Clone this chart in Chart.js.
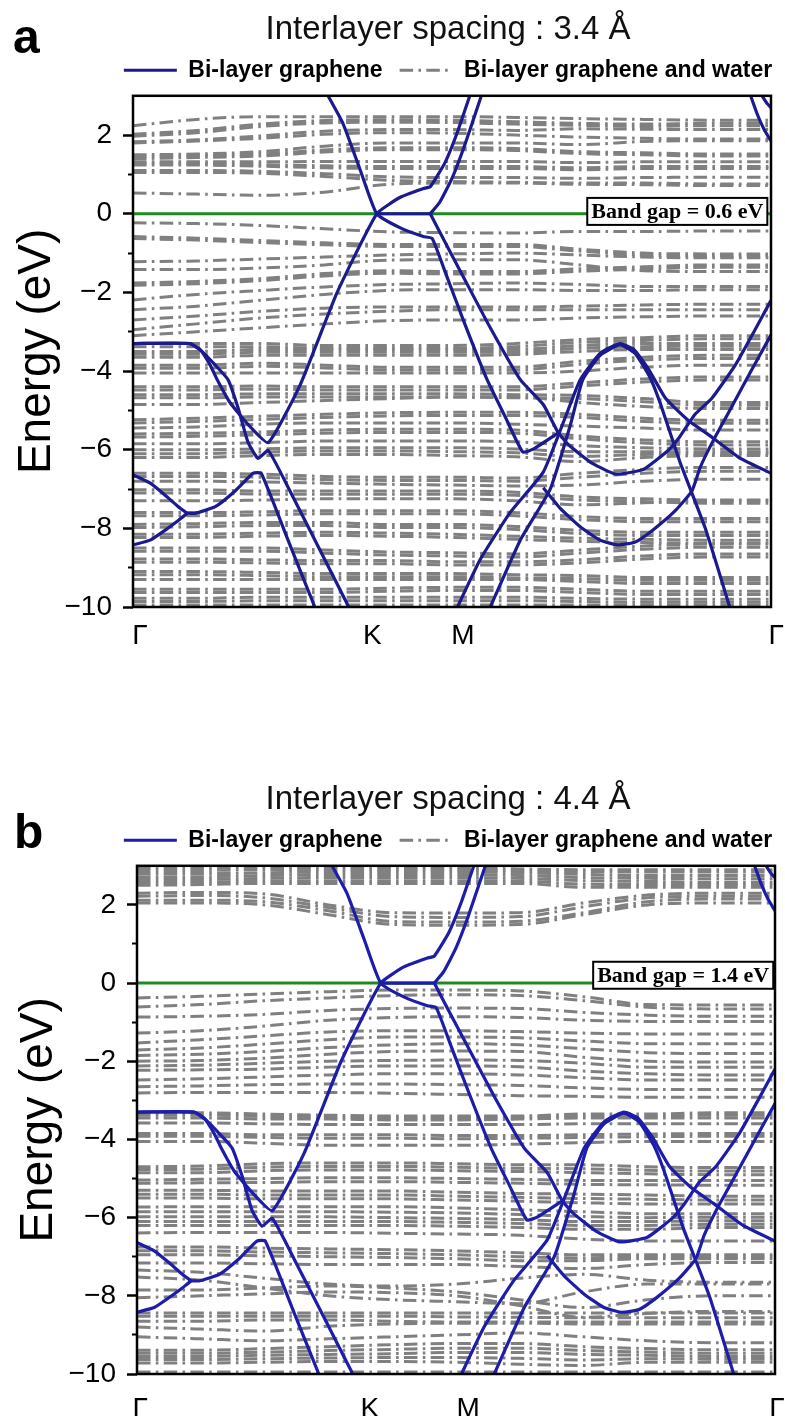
<!DOCTYPE html>
<html>
<head>
<meta charset="utf-8">
<script src="https://cdn.jsdelivr.net/npm/chart.js@4.4.0/dist/chart.umd.min.js"></script>
<style>
  html, body { margin: 0; padding: 0; background: #fff; overflow: hidden; width: 785px; height: 1416px; }
  .panel { position: absolute; left: 0; }
</style>
</head>
<body>
<div class="panel" style="top:0"><canvas id="chartA" width="896" height="700"></canvas></div>
<div class="panel" style="top:770px"><canvas id="chartB" width="896" height="646"></canvas></div>
<script>
// k path (fraction of Γ-K-M-Γ) and labels
const kGrid = [0, 0.1, 0.2, 0.3, 0.4, 0.5, 0.6, 0.7, 0.8, 0.9, 1];
const kLabels = ['Γ', 'K', 'M', 'Γ'];
const kTicksA = [0.011, 0.375, 0.517, 1.008];
const kTicksB = [0.005, 0.365, 0.519, 1.003];
const energyMajor = [-10, -8, -6, -4, -2, 0, 2];
const energyMinor = [-9, -7, -5, -3, -1, 1];

// bi-layer graphene bands, [k, E]
const sigmaOuter = [[0,-3.30],[0.089,-3.30],[0.105,-3.45],[0.121,-3.85],[0.132,-4.22],[0.152,-4.80],[0.180,-5.35],[0.212,-5.82],[0.262,-4.35],[0.320,-2.00],[0.382,0],[0.419,0.42],[0.455,0.64],[0.466,0.69],[0.489,1.30],[0.509,2.10],[0.530,3.10]];
const sigmaInner = [[0,-3.30],[0.089,-3.30],[0.108,-3.50],[0.129,-3.85],[0.149,-4.22],[0.165,-4.95],[0.180,-5.80],[0.196,-6.22],[0.212,-6.02],[0.246,-7.05],[0.293,-8.55],[0.335,-9.90],[0.343,-10.2]];
const piUpper = [[0,-6.64],[0.027,-6.85],[0.050,-7.15],[0.071,-7.45],[0.085,-7.62]];
const piLower = [[0,-8.42],[0.027,-8.30],[0.050,-8.05],[0.071,-7.80],[0.085,-7.62],[0.097,-7.62],[0.129,-7.45],[0.160,-7.05],[0.188,-6.60],[0.201,-6.60],[0.243,-8.30],[0.285,-10.0],[0.293,-10.3]];
const diracLeft = [[0.304,3.05],[0.329,2.30],[0.356,1.12],[0.382,0],[0.419,-0.36],[0.455,-0.58],[0.469,-0.63],[0.492,-1.60],[0.520,-2.80],[0.555,-4.22],[0.583,-5.15],[0.611,-6.06],[0.628,-5.98],[0.666,-5.58]];
const kmFlat = [[0.382,0],[0.466,0]];
const mUp = [[0.466,0],[0.481,0.30],[0.500,0.90],[0.520,1.75],[0.547,3.05]];
const mDown = [[0.466,0],[0.489,-0.72],[0.516,-1.55],[0.560,-2.90],[0.607,-4.22],[0.643,-4.85],[0.666,-5.55],[0.683,-5.88],[0.720,-6.35],[0.757,-6.62],[0.800,-6.50],[0.840,-6.00],[0.857,-5.67],[0.881,-5.10],[0.907,-4.70],[0.944,-3.85],[0.975,-2.95],[1.0,-2.20]];
const riseA = [[0.500,-10.3],[0.544,-8.80],[0.591,-7.60],[0.643,-6.57],[0.677,-5.20],[0.701,-4.22],[0.732,-3.55],[0.763,-3.30],[0.785,-3.45],[0.808,-3.95],[0.835,-4.70],[0.870,-5.25],[0.903,-5.63],[0.950,-6.20],[1.0,-6.60]];
const riseB = [[0.560,-10.0],[0.607,-8.30],[0.654,-7.00],[0.685,-5.40],[0.705,-4.22],[0.732,-3.60],[0.763,-3.33],[0.787,-3.55],[0.810,-4.15],[0.826,-4.80],[0.857,-6.30],[0.897,-8.00],[0.939,-10.2]];
const lowerU = [[0.643,-6.97],[0.670,-7.50],[0.701,-7.96],[0.732,-8.30],[0.759,-8.42],[0.787,-8.35],[0.815,-8.04],[0.850,-7.55],[0.876,-7.05],[0.889,-6.45],[0.910,-5.75],[0.934,-5.04],[0.967,-4.05],[1.0,-3.08]];
const topRight1 = [[0.967,3.05],[0.978,2.55],[0.989,2.15],[1.0,1.85]];
const topRight2 = [[0.984,3.05],[0.994,2.80],[1.0,2.70]];
const bilayerBands = [sigmaOuter, sigmaInner, piUpper, piLower, diracLeft, kmFlat, mUp, mDown, riseA, riseB, lowerU, topRight1, topRight2];

// bi-layer graphene + water bands, energies on kGrid
const waterBandsA = [
  [2.24, 2.40, 2.47, 2.47, 2.47, 2.47, 2.45, 2.42, 2.40, 2.38, 2.38],
  [2.02, 2.12, 2.28, 2.37, 2.39, 2.38, 2.34, 2.30, 2.28, 2.30, 2.30],
  [1.97, 2.06, 2.22, 2.31, 2.33, 2.32, 2.28, 2.25, 2.22, 2.24, 2.24],
  [1.83, 1.88, 1.98, 2.10, 2.14, 2.14, 2.12, 2.16, 2.15, 2.14, 2.14],
  [1.80, 1.85, 1.92, 2.02, 2.06, 2.05, 2.00, 1.95, 1.92, 1.90, 1.90],
  [1.50, 1.52, 1.58, 1.72, 1.80, 1.80, 1.80, 1.76, 1.84, 1.86, 1.86],
  [1.45, 1.48, 1.52, 1.62, 1.68, 1.68, 1.66, 1.58, 1.55, 1.52, 1.52],
  [1.40, 1.43, 1.47, 1.57, 1.63, 1.63, 1.61, 1.53, 1.50, 1.47, 1.47],
  [1.32, 1.32, 1.32, 1.33, 1.33, 1.33, 1.33, 1.30, 1.32, 1.32, 1.32],
  [1.28, 1.28, 1.25, 1.22, 1.20, 1.20, 1.20, 1.17, 1.20, 1.20, 1.20],
  [1.24, 1.24, 1.21, 1.17, 1.15, 1.15, 1.15, 1.12, 1.15, 1.15, 1.15],
  [1.10, 1.10, 1.08, 1.02, 0.94, 0.92, 0.92, 0.90, 0.92, 0.93, 0.93],
  [1.05, 1.05, 1.03, 0.95, 0.85, 0.82, 0.80, 0.78, 0.78, 0.76, 0.76],
  [0.53, 0.50, 0.47, 0.55, 0.75, 0.78, 0.78, 0.75, 0.74, 0.72, 0.72],
  [-0.23, -0.25, -0.30, -0.38, -0.46, -0.48, -0.49, -0.45, -0.45, -0.44, -0.44],
  [-0.58, -0.62, -0.68, -0.74, -0.78, -0.78, -0.78, -0.90, -1.00, -1.02, -1.02],
  [-0.63, -0.67, -0.73, -0.79, -0.83, -0.83, -0.83, -0.95, -1.05, -1.07, -1.07],
  [-1.22, -1.20, -1.15, -1.10, -1.05, -1.02, -1.00, -1.05, -1.10, -1.12, -1.12],
  [-1.42, -1.42, -1.38, -1.30, -1.18, -1.17, -1.17, -1.30, -1.45, -1.47, -1.47],
  [-1.76, -1.72, -1.65, -1.52, -1.45, -1.47, -1.47, -1.40, -1.35, -1.30, -1.30],
  [-1.82, -1.78, -1.70, -1.58, -1.51, -1.53, -1.53, -1.46, -1.41, -1.36, -1.36],
  [-2.19, -2.05, -1.95, -1.86, -1.80, -1.78, -1.76, -1.80, -1.85, -1.85, -1.85],
  [-2.44, -2.35, -2.20, -2.05, -1.95, -1.93, -1.93, -1.95, -1.95, -1.93, -1.93],
  [-2.70, -2.60, -2.48, -2.40, -2.37, -2.37, -2.37, -2.35, -2.32, -2.30, -2.30],
  [-2.95, -2.80, -2.65, -2.55, -2.48, -2.44, -2.44, -2.44, -2.44, -2.44, -2.44],
  [-3.10, -3.00, -2.90, -2.80, -2.72, -2.70, -2.70, -2.65, -2.62, -2.60, -2.60],
  [-3.30, -3.30, -3.30, -3.35, -3.35, -3.35, -3.30, -3.20, -3.15, -3.10, -3.10],
  [-3.38, -3.38, -3.38, -3.42, -3.42, -3.42, -3.38, -3.27, -3.22, -3.18, -3.18],
  [-3.50, -3.50, -3.45, -3.45, -3.45, -3.45, -3.45, -3.35, -3.30, -3.30, -3.30],
  [-3.57, -3.57, -3.52, -3.52, -3.52, -3.52, -3.52, -3.42, -3.38, -3.37, -3.37],
  [-3.65, -3.65, -3.60, -3.60, -3.60, -3.60, -3.58, -3.50, -3.45, -3.45, -3.45],
  [-3.85, -3.85, -3.80, -3.85, -3.90, -3.90, -3.90, -3.75, -3.65, -3.60, -3.60],
  [-3.93, -3.93, -3.88, -3.92, -3.97, -3.97, -3.97, -3.83, -3.72, -3.68, -3.68],
  [-4.05, -4.05, -4.05, -4.05, -4.05, -4.05, -4.05, -4.00, -3.90, -3.85, -3.85],
  [-4.40, -4.40, -4.38, -4.40, -4.40, -4.40, -4.40, -4.30, -4.20, -4.15, -4.15],
  [-4.48, -4.48, -4.46, -4.48, -4.48, -4.48, -4.48, -4.38, -4.28, -4.23, -4.23],
  [-4.60, -4.60, -4.58, -4.58, -4.58, -4.58, -4.60, -4.62, -4.70, -4.80, -4.80],
  [-4.68, -4.68, -4.66, -4.66, -4.66, -4.66, -4.68, -4.70, -4.78, -4.87, -4.87],
  [-4.85, -4.85, -4.80, -4.75, -4.70, -4.66, -4.66, -4.80, -4.90, -4.95, -4.95],
  [-5.24, -5.20, -5.15, -5.10, -5.06, -5.05, -5.05, -5.10, -5.20, -5.25, -5.25],
  [-5.32, -5.28, -5.23, -5.18, -5.14, -5.13, -5.13, -5.18, -5.28, -5.33, -5.33],
  [-5.45, -5.42, -5.35, -5.32, -5.32, -5.32, -5.35, -5.40, -5.45, -5.50, -5.50],
  [-5.60, -5.58, -5.55, -5.50, -5.48, -5.48, -5.50, -5.65, -5.75, -5.80, -5.80],
  [-5.68, -5.66, -5.62, -5.58, -5.56, -5.56, -5.58, -5.72, -5.83, -5.88, -5.88],
  [-5.85, -5.85, -5.82, -5.78, -5.78, -5.78, -5.80, -5.90, -5.95, -5.98, -5.98],
  [-6.00, -6.00, -5.98, -5.95, -5.95, -5.95, -5.98, -6.05, -6.05, -6.05, -6.05],
  [-6.10, -6.10, -6.06, -6.03, -6.03, -6.05, -6.08, -6.17, -6.12, -6.10, -6.10],
  [-6.20, -6.20, -6.15, -6.12, -6.12, -6.15, -6.18, -6.30, -6.20, -6.15, -6.15],
  [-6.60, -6.60, -6.62, -6.68, -6.70, -6.70, -6.72, -6.60, -6.50, -6.45, -6.45],
  [-6.68, -6.68, -6.70, -6.76, -6.78, -6.78, -6.80, -6.70, -6.60, -6.55, -6.55],
  [-6.80, -6.80, -6.82, -6.85, -6.88, -6.90, -6.92, -6.90, -6.80, -6.75, -6.75],
  [-7.02, -7.02, -7.05, -7.05, -7.05, -7.05, -7.08, -7.20, -7.25, -7.28, -7.28],
  [-7.10, -7.10, -7.13, -7.13, -7.13, -7.13, -7.16, -7.28, -7.32, -7.36, -7.36],
  [-7.30, -7.30, -7.28, -7.25, -7.25, -7.25, -7.30, -7.40, -7.35, -7.30, -7.30],
  [-7.60, -7.60, -7.58, -7.55, -7.55, -7.55, -7.60, -7.70, -7.75, -7.75, -7.75],
  [-7.68, -7.68, -7.66, -7.63, -7.63, -7.63, -7.68, -7.78, -7.83, -7.83, -7.83],
  [-7.90, -7.88, -7.85, -7.85, -7.90, -7.90, -7.95, -8.05, -8.10, -8.10, -8.10],
  [-7.98, -7.96, -7.93, -7.93, -7.98, -7.98, -8.03, -8.13, -8.18, -8.18, -8.18],
  [-8.15, -8.15, -8.12, -8.10, -8.12, -8.15, -8.20, -8.25, -8.28, -8.30, -8.30],
  [-8.23, -8.23, -8.20, -8.18, -8.20, -8.23, -8.28, -8.33, -8.36, -8.38, -8.38],
  [-8.50, -8.50, -8.50, -8.55, -8.60, -8.62, -8.65, -8.55, -8.45, -8.40, -8.40],
  [-8.58, -8.58, -8.58, -8.63, -8.68, -8.70, -8.73, -8.63, -8.53, -8.48, -8.48],
  [-8.78, -8.78, -8.80, -8.82, -8.82, -8.85, -8.85, -8.80, -8.70, -8.65, -8.65],
  [-8.86, -8.86, -8.88, -8.90, -8.90, -8.93, -8.93, -8.88, -8.78, -8.73, -8.73],
  [-9.10, -9.10, -9.12, -9.15, -9.15, -9.15, -9.18, -9.20, -9.25, -9.25, -9.25],
  [-9.18, -9.18, -9.20, -9.23, -9.23, -9.23, -9.26, -9.28, -9.32, -9.32, -9.32],
  [-9.30, -9.30, -9.30, -9.30, -9.30, -9.30, -9.30, -9.35, -9.40, -9.40, -9.40],
  [-9.55, -9.55, -9.55, -9.55, -9.52, -9.50, -9.50, -9.55, -9.60, -9.60, -9.60],
  [-9.63, -9.63, -9.63, -9.63, -9.60, -9.58, -9.58, -9.63, -9.68, -9.68, -9.68],
  [-9.78, -9.78, -9.75, -9.75, -9.75, -9.75, -9.75, -9.78, -9.80, -9.80, -9.80],
  [-9.86, -9.86, -9.84, -9.84, -9.84, -9.84, -9.84, -9.86, -9.88, -9.88, -9.88],
  [-9.95, -9.95, -9.95, -9.95, -9.95, -9.95, -9.95, -9.95, -9.95, -9.95, -9.95]
];

const waterBandsB = [
  [2.95, 2.95, 2.95, 2.95, 2.95, 2.95, 2.92, 2.90, 2.90, 2.90, 2.90],
  [2.88, 2.88, 2.90, 2.90, 2.90, 2.90, 2.87, 2.85, 2.84, 2.84, 2.84],
  [2.80, 2.80, 2.82, 2.85, 2.85, 2.85, 2.82, 2.78, 2.75, 2.75, 2.75],
  [2.72, 2.72, 2.75, 2.78, 2.78, 2.78, 2.75, 2.70, 2.68, 2.67, 2.67],
  [2.65, 2.65, 2.68, 2.70, 2.70, 2.70, 2.68, 2.62, 2.60, 2.58, 2.58],
  [2.57, 2.58, 2.61, 2.62, 2.62, 2.62, 2.61, 2.53, 2.52, 2.52, 2.52],
  [2.50, 2.52, 2.55, 2.55, 2.55, 2.55, 2.55, 2.45, 2.45, 2.45, 2.45],
  [2.30, 2.32, 2.28, 2.00, 1.80, 1.79, 1.80, 2.05, 2.25, 2.30, 2.30],
  [2.22, 2.24, 2.18, 1.93, 1.70, 1.68, 1.70, 1.95, 2.18, 2.22, 2.22],
  [2.12, 2.12, 2.08, 1.85, 1.58, 1.56, 1.58, 1.80, 2.08, 2.15, 2.15],
  [2.05, 2.05, 2.00, 1.75, 1.50, 1.48, 1.50, 1.75, 2.00, 2.05, 2.05],
  [-0.38, -0.34, -0.28, -0.22, -0.18, -0.18, -0.20, -0.35, -0.55, -0.56, -0.56],
  [-0.61, -0.55, -0.45, -0.38, -0.32, -0.30, -0.32, -0.45, -0.62, -0.66, -0.66],
  [-0.87, -0.85, -0.80, -0.70, -0.65, -0.64, -0.65, -0.75, -0.82, -0.85, -0.85],
  [-1.28, -1.22, -1.10, -0.95, -0.88, -0.86, -0.88, -0.95, -0.98, -0.98, -0.98],
  [-1.53, -1.45, -1.35, -1.25, -1.22, -1.22, -1.24, -1.28, -1.30, -1.30, -1.30],
  [-1.71, -1.66, -1.56, -1.45, -1.38, -1.38, -1.40, -1.48, -1.55, -1.55, -1.55],
  [-1.85, -1.82, -1.75, -1.65, -1.58, -1.55, -1.58, -1.68, -1.78, -1.80, -1.80],
  [-2.00, -1.98, -1.92, -1.82, -1.75, -1.74, -1.75, -1.90, -2.00, -2.02, -2.02],
  [-2.12, -2.10, -2.05, -2.00, -1.98, -1.97, -1.98, -2.05, -2.15, -2.15, -2.15],
  [-2.23, -2.22, -2.20, -2.15, -2.12, -2.12, -2.14, -2.25, -2.32, -2.35, -2.35],
  [-2.48, -2.45, -2.40, -2.35, -2.32, -2.32, -2.35, -2.42, -2.48, -2.48, -2.48],
  [-2.65, -2.63, -2.60, -2.58, -2.58, -2.60, -2.62, -2.68, -2.72, -2.72, -2.72],
  [-2.81, -2.80, -2.80, -2.80, -2.82, -2.85, -2.88, -2.90, -2.92, -2.92, -2.92],
  [-3.32, -3.32, -3.35, -3.38, -3.40, -3.40, -3.40, -3.35, -3.35, -3.32, -3.32],
  [-3.38, -3.38, -3.41, -3.43, -3.45, -3.45, -3.44, -3.40, -3.40, -3.38, -3.38],
  [-3.45, -3.45, -3.48, -3.48, -3.50, -3.50, -3.48, -3.45, -3.45, -3.45, -3.45],
  [-3.58, -3.58, -3.60, -3.62, -3.62, -3.62, -3.62, -3.60, -3.60, -3.60, -3.60],
  [-3.85, -3.85, -3.88, -3.88, -3.88, -3.90, -3.90, -3.88, -3.86, -3.85, -3.85],
  [-3.92, -3.92, -3.95, -3.97, -3.97, -3.98, -3.97, -3.95, -3.93, -3.92, -3.92],
  [-4.05, -4.05, -4.10, -4.15, -4.15, -4.15, -4.12, -4.08, -4.05, -4.05, -4.05],
  [-4.70, -4.68, -4.62, -4.60, -4.60, -4.62, -4.65, -4.65, -4.70, -4.72, -4.72],
  [-4.77, -4.76, -4.71, -4.69, -4.69, -4.71, -4.74, -4.75, -4.79, -4.81, -4.81],
  [-4.85, -4.85, -4.80, -4.78, -4.78, -4.80, -4.82, -4.85, -4.88, -4.90, -4.90],
  [-5.04, -5.02, -5.00, -4.98, -4.98, -5.00, -5.02, -5.05, -5.05, -5.05, -5.05],
  [-5.12, -5.11, -5.10, -5.08, -5.08, -5.10, -5.12, -5.15, -5.16, -5.17, -5.17],
  [-5.30, -5.30, -5.32, -5.32, -5.32, -5.35, -5.38, -5.40, -5.42, -5.45, -5.45],
  [-5.40, -5.40, -5.42, -5.42, -5.42, -5.45, -5.48, -5.51, -5.53, -5.55, -5.55],
  [-5.50, -5.50, -5.52, -5.52, -5.52, -5.55, -5.58, -5.62, -5.65, -5.65, -5.65],
  [-5.73, -5.72, -5.72, -5.72, -5.72, -5.75, -5.80, -5.85, -5.90, -5.90, -5.90],
  [-5.85, -5.85, -5.85, -5.85, -5.86, -5.88, -5.92, -5.97, -6.00, -5.99, -5.99],
  [-5.98, -5.98, -5.98, -5.98, -6.00, -6.02, -6.05, -6.10, -6.10, -6.08, -6.08],
  [-6.10, -6.10, -6.10, -6.10, -6.10, -6.12, -6.15, -6.20, -6.20, -6.17, -6.17],
  [-6.20, -6.20, -6.20, -6.20, -6.20, -6.22, -6.25, -6.30, -6.30, -6.25, -6.25],
  [-6.39, -6.38, -6.38, -6.38, -6.40, -6.42, -6.45, -6.55, -6.60, -6.60, -6.60],
  [-6.75, -6.75, -6.78, -6.80, -6.82, -6.85, -6.90, -6.95, -6.95, -6.95, -6.95],
  [-6.85, -6.85, -6.88, -6.90, -6.92, -6.95, -7.00, -7.03, -7.00, -7.00, -7.00],
  [-6.95, -6.95, -6.98, -7.00, -7.02, -7.05, -7.10, -7.10, -7.05, -7.05, -7.05],
  [-7.16, -7.16, -7.18, -7.20, -7.20, -7.20, -7.25, -7.30, -7.20, -7.15, -7.15],
  [-7.34, -7.40, -7.55, -7.70, -7.75, -7.70, -7.55, -7.45, -7.60, -7.65, -7.65],
  [-7.52, -7.60, -7.80, -8.00, -8.10, -8.15, -8.20, -7.90, -7.70, -7.70, -7.70],
  [-7.85, -7.85, -7.80, -7.75, -7.80, -7.90, -8.10, -8.30, -8.10, -8.00, -8.00],
  [-8.05, -8.00, -7.95, -7.90, -7.92, -8.00, -8.25, -8.55, -8.45, -8.40, -8.40],
  [-8.44, -8.44, -8.44, -8.44, -8.44, -8.44, -8.44, -8.44, -8.44, -8.44, -8.44],
  [-8.52, -8.52, -8.52, -8.52, -8.52, -8.54, -8.55, -8.56, -8.56, -8.56, -8.56],
  [-8.65, -8.65, -8.62, -8.62, -8.65, -8.67, -8.67, -8.67, -8.67, -8.67, -8.67],
  [-8.80, -8.85, -8.90, -8.78, -8.72, -8.70, -8.70, -8.72, -8.72, -8.72, -8.72],
  [-9.05, -9.10, -9.15, -9.10, -9.05, -9.00, -8.95, -9.05, -9.15, -9.20, -9.20],
  [-9.39, -9.39, -9.35, -9.30, -9.25, -9.22, -9.22, -9.30, -9.35, -9.38, -9.38],
  [-9.47, -9.47, -9.44, -9.40, -9.37, -9.34, -9.34, -9.40, -9.44, -9.47, -9.47],
  [-9.55, -9.55, -9.52, -9.50, -9.48, -9.45, -9.45, -9.50, -9.52, -9.55, -9.55],
  [-9.63, -9.63, -9.61, -9.59, -9.58, -9.58, -9.60, -9.64, -9.61, -9.62, -9.62],
  [-9.72, -9.72, -9.70, -9.68, -9.68, -9.70, -9.75, -9.78, -9.70, -9.70, -9.70],
  [-9.95, -9.95, -9.95, -9.95, -9.95, -9.95, -9.95, -9.95, -9.95, -9.95, -9.95]
];

const GRAY = '#808080';
const GREEN = '#1f8a1f';
const DASH = [13.5, 5.3, 2.6, 5.3];
const SANS = "'Liberation Sans', Arial, sans-serif";

const decor = {
  id: 'decor',
  afterDatasetsDraw(chart, args, o) {
    const { ctx, chartArea: a, scales: { x, y } } = chart;
    ctx.save();
    ctx.strokeStyle = '#000';
    ctx.lineWidth = 2.5;
    ctx.strokeRect(a.left, a.top, a.right - a.left, a.bottom - a.top);
    // band gap label
    ctx.font = 'bold 22px "Liberation Serif", "Times New Roman", serif';
    const w = ctx.measureText(o.gapText).width + 8;
    const bx = x.getPixelForValue(o.gapX);
    const by = y.getPixelForValue(o.gapY);
    ctx.fillStyle = '#fff';
    ctx.fillRect(bx, by - 13.5, w, 27);
    ctx.lineWidth = 2;
    ctx.strokeRect(bx, by - 13.5, w, 27);
    ctx.fillStyle = '#000';
    ctx.textBaseline = 'middle';
    ctx.textAlign = 'left';
    ctx.fillText(o.gapText, bx + 4, by + 1);
    // panel letter
    ctx.font = 'bold 48px ' + SANS;
    ctx.textBaseline = 'alphabetic';
    ctx.fillText(o.letter, o.letterX, o.letterY);
    ctx.restore();
  }
};

function bandChart(id, p) {
  const blueSets = bilayerBands.map(b => ({
    data: b.map(([k, e]) => ({ x: k, y: e })),
    borderColor: p.blue, borderWidth: 3.2, pointRadius: 0, tension: 0.15, order: 0
  }));
  const zeroSet = {
    data: [{ x: 0, y: 0 }, { x: 1, y: 0 }],
    borderColor: GREEN, borderWidth: 3, pointRadius: 0, order: 1
  };
  const waterSets = p.water.map(b => ({
    data: b.map((e, i) => ({ x: kGrid[i], y: e })),
    borderColor: GRAY, borderWidth: 3, borderDash: DASH, pointRadius: 0,
    cubicInterpolationMode: 'monotone', order: 2
  }));
  const datasets = [...blueSets, zeroSet, ...waterSets];

  return new Chart(document.getElementById(id), {
    type: 'line',
    data: { datasets },
    options: {
      responsive: false,
      animation: false,
      events: [],
      layout: { padding: 0 },
      plugins: {
        title: {
          display: true, text: p.title, color: '#111',
          font: { family: SANS, size: 33, weight: 'normal' },
          padding: { top: 10, bottom: 5 }
        },
        legend: {
          display: true, position: 'top',
          labels: {
            usePointStyle: true, pointStyleWidth: 53, padding: 4.2, color: '#000',
            font: { family: SANS, size: 23, weight: 'bold' },
            generateLabels: () => [
              { text: 'Bi-layer graphene  ', strokeStyle: p.blue, fillStyle: p.blue, lineWidth: 3, lineDash: [], pointStyle: 'line', hidden: false, datasetIndex: 0, fontColor: '#000' },
              { text: 'Bi-layer graphene and water', strokeStyle: GRAY, fillStyle: GRAY, lineWidth: 3, lineDash: DASH, pointStyle: 'line', hidden: false, datasetIndex: blueSets.length + 1, fontColor: '#000' }
            ]
          }
        },
        tooltip: { enabled: false },
        decor: p.decor
      },
      scales: {
        x: {
          type: 'linear', position: 'bottom', min: 0, max: 1,
          afterBuildTicks: s => { s.ticks = p.kTicks.map(v => ({ value: v })); },
          afterFit: s => { s.height = p.xHeight; },
          ticks: {
            autoSkip: false, maxRotation: 0, padding: p.xPad, color: '#000',
            font: { family: SANS, size: 28 },
            callback: (v, i) => kLabels[i]
          },
          grid: { display: false }, border: { display: false }
        },
        xTop: {
          type: 'linear', position: 'top', min: 0, max: 1,
          afterFit: s => { s.height = 4; },
          ticks: { display: false }, grid: { display: false }, border: { display: false }
        },
        y: {
          type: 'linear', position: 'left', min: -10, max: 3, weight: 1,
          afterBuildTicks: s => { s.ticks = energyMajor.map(v => ({ value: v })); },
          afterFit: s => { s.width = p.plotLeft; },
          ticks: {
            padding: 11, color: '#000', font: { family: SANS, size: 28 },
            callback: v => String(v).replace('-', '\u2212')
          },
          grid: { drawOnChartArea: false, drawTicks: true, tickLength: 10, tickWidth: 2.5, tickColor: '#000' },
          border: { display: false },
          title: {
            display: true, text: 'Energy (eV)', color: '#000',
            font: { family: SANS, size: 46 }, padding: { top: p.titlePad, bottom: 0 }
          }
        },
        yMinor: {
          type: 'linear', position: 'left', min: -10, max: 3, weight: 0,
          afterBuildTicks: s => { s.ticks = energyMinor.map(v => ({ value: v })); },
          afterFit: s => { s.width = 0; },
          ticks: { display: false },
          grid: { drawOnChartArea: false, drawTicks: true, tickLength: 5, tickWidth: 2, tickColor: '#000' },
          border: { display: false }
        },
        yRight: {
          type: 'linear', position: 'right', min: -10, max: 3,
          afterFit: s => { s.width = 896 - p.plotRight; },
          ticks: { display: false }, grid: { display: false }, border: { display: false }
        }
      }
    },
    plugins: [decor]
  });
}

bandChart('chartA', {
  title: 'Interlayer spacing : 3.4 Å', water: waterBandsA, kTicks: kTicksA, blue: '#1b1b8f',
  plotLeft: 133, plotRight: 771, xHeight: 93, xPad: 4, titlePad: 10,
  decor: { gapText: 'Band gap = 0.6 eV', gapX: 0.712, gapY: 0.06, letter: 'a', letterX: 13, letterY: 53 }
});
bandChart('chartB', {
  title: 'Interlayer spacing : 4.4 Å', water: waterBandsB, kTicks: kTicksB, blue: '#1d1daa',
  plotLeft: 137, plotRight: 775, xHeight: 42, xPad: 10, titlePad: 12,
  decor: { gapText: 'Band gap = 1.4 eV', gapX: 0.715, gapY: 0.2, letter: 'b', letterX: 14, letterY: 78 }
});
</script>
</body>
</html>
